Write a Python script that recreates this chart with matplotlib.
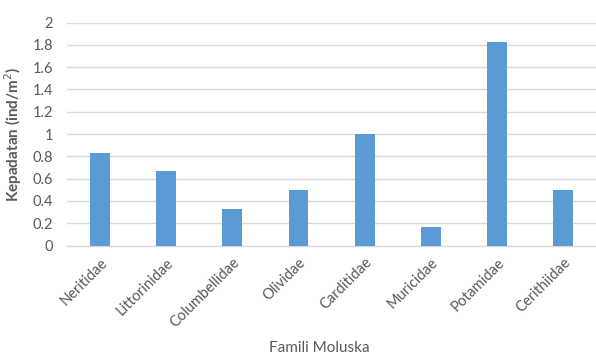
import matplotlib
matplotlib.use("Agg")
import matplotlib.pyplot as plt

families = ["Neritidae", "Littorinidae", "Columbellidae", "Olividae",
            "Carditidae", "Muricidae", "Potamidae", "Cerithiidae"]
density = [0.83, 0.67, 0.33, 0.50, 1.00, 0.17, 1.83, 0.50]
yticks = [0, 0.2, 0.4, 0.6, 0.8, 1, 1.2, 1.4, 1.6, 1.8, 2]
ytick_labels = ["0", "0.2", "0.4", "0.6", "0.8", "1", "1.2", "1.4", "1.6", "1.8", "2"]

plt.rcParams["font.family"] = ["Lato", "DejaVu Sans"]
text_color = "#595959"
grid_color = "#D9D9D9"

fig = plt.figure(figsize=(5.96, 3.58), dpi=100)
ax = fig.add_axes([0.1124, 0.314, 0.888, 0.623])

x = range(len(families))
ax.bar(x, density, width=0.3, color="#5B9BD5", zorder=3)

ax.set_xlim(-0.5, len(families) - 0.5)
ax.set_ylim(0, 2)
ax.set_yticks(yticks)
ax.set_yticklabels(ytick_labels)
ax.set_xticks(list(x))
ax.set_xticklabels(families, rotation=45, ha="right", rotation_mode="anchor")

ax.grid(axis="y", color=grid_color, linewidth=1, zorder=0)
for side in ["top", "right", "left"]:
    ax.spines[side].set_visible(False)
ax.spines["bottom"].set_color(grid_color)
ax.spines["bottom"].set_linewidth(1)
ax.tick_params(axis="both", length=0, labelsize=10.5, colors=text_color)
ax.tick_params(axis="y", pad=10)
ax.tick_params(axis="x", pad=7)

ax.set_ylabel("Kepadatan (ind/m$^2$)", fontsize=11, color=text_color,
              fontweight="bold", labelpad=6)
fig.text(0.535, 0.028, "Famili Moluska", fontsize=11, color=text_color,
         ha="center", va="center")

fig.savefig("out.png", dpi=100, facecolor="white")
